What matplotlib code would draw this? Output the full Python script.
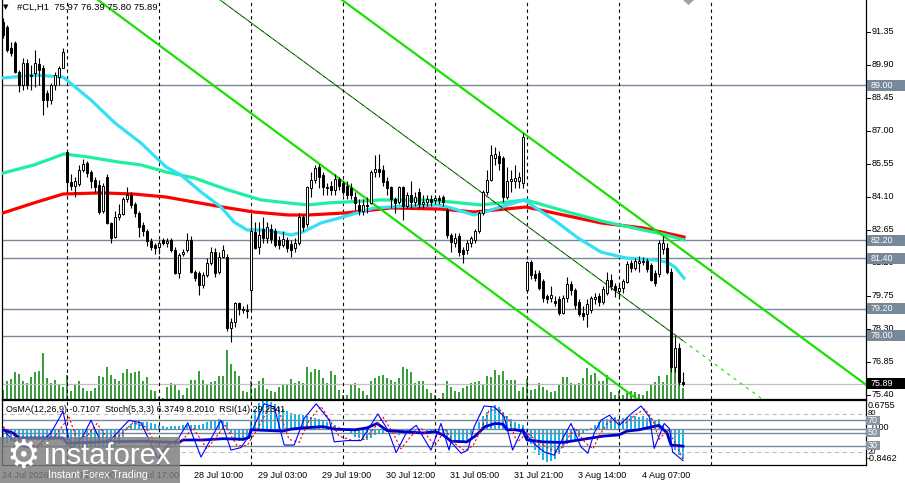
import numpy as np
import matplotlib
matplotlib.use("Agg")
import matplotlib.pyplot as plt
import matplotlib.transforms as mtransforms
from matplotlib.patches import Rectangle, Polygon

# ── Data: #CL, H1, bar index 0..170 ──────────────────────────────────
opens = [
    91.79, 91.57, 90.65, 90.87, 89.59, 89.02, 89.99, 89.46, 89.55, 89.95,
    89.77, 88.67, 88.36, 89.02, 89.38, 89.77, 86.08, 84.77, 84.60, 84.68,
    85.29, 85.60, 85.20, 84.85, 84.63, 83.50, 84.98, 82.96, 82.35, 83.22,
    83.35, 84.00, 84.20, 83.80, 83.40, 82.85, 82.60, 82.17, 82.00, 81.90,
    82.20, 82.10, 82.20, 81.77, 80.76, 81.60, 81.75, 82.20, 80.80, 80.75,
    80.23, 80.67, 81.20, 81.68, 80.80, 81.46, 81.46, 78.35, 78.60, 79.44,
    79.20, 79.15, 80.01, 82.55, 81.90, 82.70, 82.30, 82.70, 82.60, 82.20,
    82.00, 82.20, 82.05, 81.85, 82.10, 83.20, 82.90, 84.50, 84.85, 85.40,
    85.05, 84.55, 84.60, 84.40, 84.90, 84.70, 84.60, 84.50, 84.10, 83.75,
    83.50, 83.75, 83.85, 85.20, 85.35, 85.30, 84.80, 84.55, 84.00, 83.90,
    84.55, 83.70, 84.20, 83.90, 84.30, 83.80, 83.90, 84.00, 83.95, 84.05,
    84.10, 83.53, 82.44, 82.10, 82.40, 81.75, 81.77, 82.10, 82.20, 82.60,
    83.40, 84.30, 84.85, 85.80, 85.90, 85.80, 84.10, 84.80, 84.80, 84.80,
    84.70, 80.01, 81.24, 80.70, 80.76, 80.40, 79.75, 79.65, 79.55, 79.60,
    79.00, 79.66, 80.28, 80.00, 79.50, 79.00, 78.95, 79.15, 79.60, 79.75,
    79.50, 79.90, 80.45, 80.20, 79.95, 80.10, 80.35, 81.20, 81.00, 81.20,
    81.25, 81.30, 81.10, 80.76, 80.70, 81.80, 81.86, 80.80, 76.63, 77.47, 75.97,
]
highs = [
    91.97, 91.66, 90.90, 90.95, 89.70, 90.20, 90.17, 89.90, 90.56, 90.20,
    89.90, 88.80, 89.10, 89.60, 89.85, 90.65, 86.17, 85.10, 85.00, 85.50,
    85.75, 85.70, 85.30, 85.00, 84.85, 84.70, 85.10, 83.00, 83.50, 83.80,
    84.10, 84.55, 84.30, 83.90, 83.50, 83.00, 82.70, 82.30, 82.10, 82.20,
    82.30, 82.30, 82.30, 81.90, 81.65, 81.80, 82.50, 82.40, 80.90, 80.85,
    80.80, 81.40, 81.90, 81.85, 81.70, 82.00, 81.60, 78.80, 79.50, 79.50,
    79.30, 79.40, 83.40, 83.00, 83.00, 83.20, 83.00, 82.90, 82.75, 82.40,
    82.60, 82.35, 82.20, 82.30, 83.40, 83.30, 84.60, 85.20, 85.50, 85.55,
    85.20, 84.70, 84.80, 85.10, 85.00, 84.80, 84.80, 84.70, 84.30, 84.00,
    84.00, 84.10, 85.30, 85.95, 86.00, 85.50, 85.00, 84.60, 84.10, 84.60,
    84.60, 84.30, 84.80, 84.30, 84.50, 84.20, 84.20, 84.20, 84.20, 84.20,
    84.20, 83.60, 82.50, 82.50, 82.50, 81.90, 82.20, 82.40, 82.70, 83.50,
    84.40, 85.30, 86.40, 86.30, 86.10, 85.90, 85.40, 85.30, 85.50, 85.20,
    86.90, 81.30, 81.35, 80.90, 80.90, 80.50, 79.85, 80.20, 79.75, 79.75,
    79.80, 80.60, 80.40, 80.10, 79.60, 79.30, 79.60, 79.75, 79.90, 79.90,
    80.20, 80.80, 80.70, 80.30, 80.30, 80.50, 81.30, 81.35, 81.40, 81.50,
    81.45, 81.40, 81.20, 80.90, 82.20, 82.40, 82.10, 81.00, 78.00, 77.70, 76.39,
]
lows = [
    91.10, 90.47, 90.30, 89.55, 88.71, 88.80, 88.85, 88.80, 88.93, 89.00,
    87.70, 88.05, 88.20, 88.80, 89.00, 89.75, 84.30, 84.40, 84.10, 84.60,
    85.20, 85.00, 84.50, 84.30, 83.35, 83.40, 82.90, 82.07, 82.30, 83.10,
    83.30, 83.90, 83.60, 83.20, 82.35, 82.40, 81.95, 81.75, 81.60, 81.60,
    82.00, 81.90, 81.70, 80.70, 80.55, 81.50, 81.70, 80.75, 80.40, 79.80,
    80.10, 80.60, 81.10, 80.60, 80.70, 81.40, 78.20, 77.72, 78.40, 78.90,
    79.00, 78.80, 79.10, 81.80, 81.60, 82.10, 82.10, 82.10, 81.90, 81.80,
    81.90, 81.70, 81.46, 81.70, 82.00, 82.60, 82.80, 84.10, 84.70, 84.50,
    84.20, 84.20, 84.20, 84.20, 84.40, 84.20, 84.00, 84.00, 83.55, 83.30,
    83.30, 83.40, 83.80, 85.00, 85.00, 84.60, 84.20, 83.60, 83.40, 83.80,
    83.10, 83.60, 83.60, 83.70, 83.60, 83.60, 83.70, 83.70, 83.80, 83.80,
    83.70, 82.30, 81.70, 81.90, 81.50, 81.20, 81.60, 81.90, 82.10, 82.50,
    83.30, 84.20, 84.80, 85.50, 85.30, 83.90, 84.00, 84.30, 84.50, 84.50,
    84.50, 79.90, 80.50, 80.40, 80.00, 79.50, 79.45, 79.50, 79.30, 78.90,
    78.95, 79.50, 79.80, 79.20, 78.85, 78.70, 78.40, 79.00, 79.40, 79.30,
    79.40, 79.80, 80.00, 79.70, 79.70, 79.90, 80.30, 80.80, 80.90, 80.80,
    81.10, 80.80, 80.40, 80.20, 80.60, 81.60, 80.70, 76.40, 76.40, 75.85, 75.80,
]
closes = [
    91.22, 90.56, 90.43, 89.59, 89.02, 89.99, 89.02, 89.42, 89.99, 89.68,
    88.36, 88.36, 89.02, 89.46, 89.77, 90.47, 84.77, 84.60, 84.80, 85.30,
    85.55, 85.15, 84.80, 84.55, 83.44, 84.60, 82.96, 82.30, 83.22, 83.35,
    84.00, 84.20, 83.75, 83.40, 82.79, 82.60, 82.17, 81.90, 81.85, 82.10,
    82.10, 82.15, 81.77, 80.76, 81.55, 81.70, 82.20, 80.80, 80.55, 80.23,
    80.67, 81.20, 81.68, 80.76, 81.46, 81.77, 78.35, 78.60, 79.44, 79.20,
    79.15, 79.10, 82.60, 81.88, 82.45, 82.30, 82.80, 82.25, 82.00, 82.00,
    82.25, 81.85, 81.77, 82.10, 83.20, 82.80, 84.55, 84.85, 85.37, 84.98,
    84.55, 84.50, 84.40, 84.90, 84.60, 84.30, 84.17, 84.20, 83.85, 83.50,
    83.75, 83.70, 85.20, 85.35, 85.20, 84.77, 84.50, 84.00, 83.85, 84.55,
    83.70, 84.20, 83.90, 84.10, 83.80, 83.90, 84.00, 83.90, 84.05, 83.95,
    83.90, 82.44, 82.13, 82.30, 81.68, 81.60, 82.10, 82.30, 82.60, 83.40,
    84.30, 84.85, 85.95, 86.00, 85.60, 84.10, 84.80, 84.90, 84.95, 85.00,
    86.75, 81.24, 80.67, 80.55, 80.10, 79.66, 79.60, 79.80, 79.45, 79.00,
    79.66, 80.28, 80.00, 79.35, 78.98, 78.85, 79.40, 79.66, 79.70, 79.50,
    80.05, 80.45, 80.17, 80.00, 80.10, 80.40, 81.15, 81.00, 81.30, 81.30,
    81.30, 80.95, 80.45, 80.30, 82.10, 82.10, 80.80, 76.63, 77.47, 75.97, 75.89,
]
volumes = [
    87, 177, 193, 267, 247, 177, 157, 217, 267, 277,
    457, 207, 157, 187, 137, 117, 237, 77, 147, 177,
    107, 77, 77, 107, 227, 217, 317, 237, 197, 177,
    257, 297, 257, 267, 277, 177, 217, 87, 77, 17,
    10, 117, 157, 137, 87, 37, 107, 187, 187, 277,
    187, 137, 167, 177, 227, 227, 487, 347, 277, 227,
    77, 67, 177, 107, 177, 207, 97, 77, 67, 117,
    147, 147, 197, 157, 177, 157, 317, 267, 297, 287,
    207, 157, 277, 237, 87, 37, 37, 147, 157, 107,
    77, 37, 177, 207, 227, 237, 207, 187, 167, 207,
    317, 297, 267, 157, 177, 177, 97, 57, 37, 3,
    57, 177, 117, 77, 67, 107, 127, 157, 167, 177,
    147, 227, 217, 287, 237, 277, 187, 187, 187, 77,
    117, 197, 87, 97, 157, 117, 87, 67, 77, 147,
    217, 217, 157, 147, 157, 207, 307, 237, 257, 177,
    177, 237, 67, 37, 77, 37, 57, 77, 67, 47,
    37, 77, 137, 167, 227, 167, 237, 307, 307, 407, 110,
]
osma = [
    -0.32, -0.32, -0.31, -0.30, -0.30, -0.29, -0.28, -0.27, -0.26, -0.25,
    -0.26, -0.26, -0.25, -0.22, -0.18, -0.12,
    -0.25, -0.35, -0.42, -0.45, -0.44, -0.42, -0.41, -0.42, -0.45, -0.45,
    -0.50, -0.52, -0.45, -0.35, -0.20,
    0.05, 0.12, 0.17, 0.18, 0.17, 0.15, 0.14, 0.12, 0.10,
    0.06, 0.05, 0.06, 0.07, 0.06,
    0.08, 0.10, 0.10, 0.09, 0.10, 0.12, 0.15,
    0.18, 0.20, 0.22, 0.20, 0.15,
    -0.10, -0.25, -0.29, -0.28, -0.25,
    0.20, 0.45, 0.60, 0.66, 0.67, 0.63, 0.58, 0.52, 0.47, 0.42, 0.38,
    0.35, 0.33, 0.32, 0.30, 0.28, 0.25, 0.22, 0.18, 0.15, 0.12, 0.10,
    0.05, 0.00, -0.05, -0.10,
    -0.18, -0.22, -0.25, -0.25, -0.22,
    -0.15, -0.12, -0.10, -0.08, -0.10,
    -0.12, -0.15, -0.13, -0.10, -0.08,
    -0.05, -0.04, -0.03, -0.05, -0.06, -0.05, -0.08, -0.12, -0.20,
    -0.28, -0.30, -0.30, -0.28, -0.25, -0.15, 0.00, 0.15, 0.30, 0.40,
    0.50, 0.56, 0.50, 0.40, 0.30, 0.22, 0.15, 0.12, 0.08, -0.15,
    -0.35, -0.50, -0.62, -0.72, -0.77, -0.76, -0.70, -0.60, -0.45, -0.35,
    -0.30, -0.25, -0.20, -0.12, -0.05, 0.02, 0.08, 0.15, 0.20, 0.22,
    0.25, 0.27, 0.22, 0.25, 0.28, 0.30, 0.30, 0.28, 0.30, 0.26,
    0.25, 0.20, 0.22, 0.10, -0.10, -0.30, -0.50, -0.62, -0.71,
]

# moving averages read at sample bars
ma_fast_bar = [0, 8, 15, 22, 28, 34.5, 40.75, 44.5, 49.5, 54.5, 57.75, 61, 66, 72,
               75, 79.5, 85, 92.75, 101, 108.75, 112, 117.75, 122, 126, 130.25,
               137.75, 143.75, 149.5, 155.75, 163, 166, 168, 170.25]
ma_fast_val = [89.33, 89.46, 89.37, 88.36, 87.35, 86.47, 85.42, 85.07, 84.32, 83.66,
               83.00, 82.65, 82.65, 82.43, 82.56, 82.96, 83.22, 83.62, 83.70, 83.75,
               83.62, 83.31, 83.53, 83.75, 83.97, 83.09, 82.30, 81.68, 81.42, 81.33,
               81.24, 81.02, 80.54]
ma_mid_bar = [0, 7.75, 15.25, 21.25, 28.75, 34.5, 40.75, 47.75, 56.25, 64.5, 71.25,
              76.25, 81.25, 85.75, 94.5, 105.25, 112, 119.5, 130.75, 141.25, 149.5,
              160, 165, 170.25]
ma_mid_val = [85.15, 85.51, 85.99, 85.86, 85.64, 85.51, 85.20, 84.94, 84.41, 83.97,
              83.84, 83.75, 83.84, 83.88, 83.97, 83.97, 83.88, 83.75, 83.97, 83.44,
              83.05, 82.65, 82.47, 82.21]
ma_slow_bar = [0, 7.75, 15, 24.5, 32.75, 40.75, 47.75, 56.25, 62.75, 71.25, 76.25,
               85.75, 97, 109.5, 117.75, 130.75, 149.5, 160, 170.25]
ma_slow_val = [83.40, 83.84, 84.23, 84.28, 84.23, 84.10, 83.88, 83.62, 83.44, 83.31,
               83.31, 83.40, 83.62, 83.57, 83.44, 83.66, 82.96, 82.74, 82.34]

# stochastic (main / signal) and RSI read at turning points
stoch_bar = [0, 1.2, 4, 8, 12, 15, 17, 20, 22, 24.5, 27, 31.5, 34.5, 38.7, 41, 43.7,
             46.2, 49.5, 54.5, 57, 59.5, 62, 65.3, 67.8, 70.3, 72.8, 75.3, 78.3, 81.6,
             82.8, 86.2, 89.5, 93.7, 96.2, 98.3, 100.8, 103.3, 107, 109.5, 111.5, 112,
             114.5, 116.2, 117.8, 120.3, 122.8, 125.3, 127.4, 129.9, 131.6, 132.8,
             135.3, 137.8, 139.9, 142, 144.5, 146.2, 147.8, 149.5, 151.6, 154.1, 157,
             159.5, 161.6, 162.8, 165.3, 166.6, 167.4, 170]
stoch_val = [57, 47, 30, 25, 50, 84, 25, 45, 70, 35, 40, 70, 66, 10, 30, 40,
             66, 12, 70, 23, 27, 50, 96, 91, 31, 31, 73, 96, 70,
             36, 38, 38, 80, 55, 19, 50, 62, 23, 65, 23, 36,
             18, 23, 60, 92.6, 91, 75.7, 23, 57, 41.5, 33,
             20, 15, 41, 65, 28, 18, 50, 70, 78, 62, 80,
             92.6, 75, 25.7, 65, 57, 20, 6.37]
signal_bar = [0, 2, 5, 9, 13, 16.5, 18.5, 21, 23.5, 26, 29, 32.5, 35.5, 39.5, 42, 45,
              47.5, 51, 55.5, 58.5, 61, 63.5, 66.5, 69, 71.5, 74, 76.5, 79.5, 82.5,
              84, 87.5, 90.5, 95, 97.5, 99.5, 102, 104.5, 108, 110.5, 113, 115.5,
              117.5, 119.5, 121.5, 124, 126.5, 128.5, 131, 133, 136.5, 139, 141, 143,
              145.5, 147.5, 149, 151, 153, 155.5, 158, 160.5, 162.5, 164, 166.3,
              168.5, 170]
signal_val = [60, 50, 35, 28, 45, 75, 40, 45, 65, 42, 45, 66, 60, 22, 28, 40,
              58, 25, 62, 30, 30, 55, 90, 85, 40, 35, 70, 92, 62,
              45, 38, 40, 75, 50, 25, 45, 58, 30, 55, 33, 22,
              30, 55, 85, 88, 70, 35, 50, 40, 25, 20, 40, 58,
              35, 25, 45, 65, 72, 65, 78, 88, 70, 40, 55,
              28, 8.2]
rsi_bar = [0, 2.5, 4, 15, 16, 25, 35, 44, 45, 50, 55, 60, 61.5, 62, 66, 70, 72, 75,
           80, 83, 88, 91, 93.5, 96, 100, 105, 108, 110, 112, 116, 118, 120.5, 123,
           125, 126, 128, 130, 131, 135, 140, 143, 146, 150, 154, 156, 159, 161, 164,
           166, 167, 170]
rsi_val = [55, 50, 42, 42, 34, 36, 37, 35, 39, 39, 41, 40, 43, 55, 54, 53, 56, 58,
           60, 56, 55, 58, 65, 54, 52, 50, 52, 47, 37, 36, 45, 60, 65,
           64, 55, 55, 53, 39, 36, 35, 38, 41, 45, 47, 53, 55, 58, 62,
           50, 31, 29.23]

# drawn objects: channel lines (bar, price) anchors and horizontal levels
chan_low = [(23.75, 92.76), (158.5, 75.22)]
chan_high = [(84.75, 92.76), (216.0, 75.82)]
chan_mid = [(54.25, 92.76), (189.5, 75.26)]
chan_mid_end_bar = 170
levels = [89.00, 82.20, 81.40, 79.20, 78.00]
last_price = 75.89
price_ticks = ["91.35", "89.90", "88.45", "87.00", "85.55", "84.10",
               "82.65", "81.20", "79.75", "78.30", "76.85", "75.40"]
day_sep_bars = [16, 39, 62, 85, 108, 131, 154, 177]
time_label_bars = [0, 16, 32, 48, 64, 80, 96, 112, 128, 144, 160]
time_labels = ["24 Jul 2026", "27 Jul 01:00", "27 Jul 17:00", "28 Jul 10:00",
               "29 Jul 03:00", "29 Jul 19:00", "30 Jul 12:00", "31 Jul 05:00",
               "31 Jul 21:00", "3 Aug 14:00", "4 Aug 07:00"]
osma_min, osma_max = -0.8462, 0.6755

# ── Style ────────────────────────────────────────────────────────────
plt.rcParams["font.family"] = ["Liberation Sans", "DejaVu Sans"]
plt.rcParams["font.size"] = 6.5

GRID = "#778899"
LIME = "#19e000"
FS = 6.5
W, H = 905, 483


def fx(x):
    return x / W


def fy(y):
    return 1 - y / H


fig = plt.figure(figsize=(W / 100, H / 100), dpi=100)
fig.patch.set_facecolor("white")

main_rect = [fx(2), fy(398.5), 864 / W, 398.5 / H]
osc_rect = [fx(2), fy(465), 864 / W, 65 / H]

ax_vol = fig.add_axes(main_rect, zorder=1)
ax = fig.add_axes(main_rect, zorder=2, sharex=ax_vol)
ax_osma = fig.add_axes(osc_rect, zorder=1, sharex=ax_vol)
ax_osc = fig.add_axes(osc_rect, zorder=2, sharex=ax_vol)
ax.patch.set_alpha(0)
ax_osc.patch.set_alpha(0)

n = len(closes)
bars = np.arange(n)
ax_vol.set_xlim(-0.25, 215.75)
ax.set_ylim(75.246, 92.756)
ax_vol.set_ylim(0, 3985)
ax_osc.set_ylim(-0.5, 102)
ax_osma.set_ylim(osma_min, osma_max)

for a in (ax_vol, ax, ax_osma, ax_osc):
    a.set_xticks([])
    a.set_yticks([])
    for s in a.spines.values():
        s.set_visible(False)
for a in (ax, ax_osc):
    for s in a.spines.values():
        s.set_visible(True)
        s.set_color("black")
        s.set_linewidth(0.9)
    a.spines["top"].set_visible(a is ax_osc)

# volumes
ax_vol.vlines(bars, 0, volumes, color="#008000", lw=1.1)

# level lines
for lv in levels:
    ax.axhline(lv, color=GRID, lw=1.0, zorder=1)
ax.axhline(last_price, color="#c0c0c0", lw=0.9, zorder=1)

# day separators
for b in day_sep_bars:
    for a in (ax, ax_osc):
        a.axvline(b, color="black", lw=0.8, ls=(0, (3, 3)), zorder=1)

# moving averages
ax.plot(ma_slow_bar, ma_slow_val, color="#ff0000", lw=2.3, zorder=3)
ax.plot(ma_mid_bar, ma_mid_val, color="#1ef0a0", lw=2.3, zorder=3)
ax.plot(ma_fast_bar, ma_fast_val, color="#33e0f4", lw=2.3, zorder=3)

# channel
for line in (chan_low, chan_high):
    (b0, p0), (b1, p1) = line
    ax.plot([b0, b1], [p0, p1], color=LIME, lw=1.6, zorder=4)
(m0, q0), (m1, q1) = chan_mid
q_end = q0 + (q1 - q0) * (chan_mid_end_bar - m0) / (m1 - m0)
ax.plot([m0, chan_mid_end_bar], [q0, q_end], color="black", lw=0.6, zorder=4)
ax.plot([m0, m1], [q0, q1], color=LIME, lw=0.8, ls=(0, (3, 4)), zorder=4)

# candles
for i in range(n):
    o, h, l, c = opens[i], highs[i], lows[i], closes[i]
    ax.plot([i, i], [l, h], color="black", lw=0.8, zorder=5,
            solid_capstyle="butt")
    lo, hi = min(o, c), max(o, c)
    ax.add_patch(Rectangle((i - 0.36, lo), 0.72, max(hi - lo, 0.03),
                           facecolor="white" if c >= o else "black",
                           edgecolor="black", lw=0.7, zorder=6))

# oscillator panel
ax_osma.bar(bars, osma, width=0.65, color="#1ab4ea", linewidth=0)
ax_osma.axhline(0, color=GRID, lw=1.0)
for lv in (70, 50, 30):
    ax_osc.axhline(lv, color=GRID, lw=1.0, zorder=1)
for lv in (80, 20):
    ax_osc.axhline(lv, color="#c0c0c0", lw=0.8, ls=(0, (4, 3)), zorder=1)
ax_osc.plot(rsi_bar, rsi_val, color="#0000cd", lw=2.0, zorder=3)
ax_osc.plot(signal_bar, signal_val, color="#ff0000", lw=0.8,
            ls=(0, (2, 2)), zorder=4)
ax_osc.plot(stoch_bar, stoch_val, color="#0000ff", lw=0.8, zorder=5)

# ── Right price scale ────────────────────────────────────────────────
blend = mtransforms.blended_transform_factory(ax.transAxes, ax.transData)
px_ax = 1.0 / 864
px_price = (92.756 - 75.246) / 398.5
for t in price_ticks:
    p = float(t)
    ax.plot([1.0, 1.0 + 4 * px_ax], [p, p], transform=blend, color="black",
            lw=0.7, clip_on=False)
    ax.text(1.0 + 6 * px_ax, p, t, transform=blend, fontsize=FS,
            va="center", ha="left", clip_on=False, zorder=7)


def price_box(p, face):
    ax.add_patch(Rectangle((1.0 + 1 * px_ax, p - 5.5 * px_price), 38 * px_ax,
                           11 * px_price, transform=blend, facecolor=face,
                           edgecolor="none", clip_on=False, zorder=8))
    ax.text(1.0 + 5 * px_ax, p, f"{p:.2f}", transform=blend, fontsize=FS,
            color="white", va="center", ha="left", clip_on=False, zorder=9)


for lv in levels:
    price_box(lv, GRID)
price_box(last_price, "black")

oblend = mtransforms.blended_transform_factory(ax_osc.transAxes, ax_osc.transData)
mblend = mtransforms.blended_transform_factory(ax_osma.transAxes, ax_osma.transData)
ax_osma.text(1.0 + 2 * px_ax, osma_max - 0.13, f"{osma_max:.4f}", transform=mblend,
             fontsize=FS, va="center", ha="left", clip_on=False)
ax_osma.text(1.0 + 1 * px_ax, osma_min + 0.16, f"{osma_min:.4f}", transform=mblend,
             fontsize=FS, va="center", ha="left", clip_on=False)
ax_osma.text(1.0 + 6 * px_ax, 0.02, "0.00", transform=mblend,
             fontsize=FS, va="center", ha="left", clip_on=False)
for lv in (80, 20):
    ax_osc.text(1.0 + 2 * px_ax, lv, str(lv), transform=oblend, fontsize=FS - 1,
                va="center", ha="left", clip_on=False)
px_osc = 102.5 / 65
for lv in (70, 50, 30):
    ax_osc.add_patch(Rectangle((1.0, lv - 4.5 * px_osc), 14 * px_ax, 9 * px_osc,
                               transform=oblend, facecolor="#8a96a3",
                               edgecolor="none", clip_on=False, zorder=8))
    ax_osc.text(1.0 + 2 * px_ax, lv, str(lv), transform=oblend, fontsize=FS,
                color="white", va="center", ha="left", clip_on=False, zorder=9)

# ── Time axis ────────────────────────────────────────────────────────
tblend = mtransforms.blended_transform_factory(ax_osc.transData, fig.transFigure)
for b, lab in zip(time_label_bars, time_labels):
    fig.text(b - 0.25, fy(475.5), lab, transform=tblend, fontsize=FS,
             va="center", ha="left", zorder=3)

# ── Header texts ─────────────────────────────────────────────────────
fig.text(fx(3), fy(7), "\u25bc", fontsize=5, va="center", ha="left",
         family="DejaVu Sans")
fig.text(fx(17), fy(7), "#CL,H1  75.97 76.39 75.80 75.89", fontsize=FS + 0.3,
         va="center", ha="left")
fig.text(fx(6), fy(409.5),
         "OsMA(12,26,9) -0.7107  Stoch(5,3,3) 6.3749 8.2010  RSI(14) 29.2341",
         fontsize=FS, va="center", ha="left", zorder=6)
fig.patches.append(Polygon([(fx(683), fy(0)), (fx(694), fy(0)), (fx(688.5), fy(5))],
                           closed=True, transform=fig.transFigure,
                           facecolor="#a0a0a0", edgecolor="none", zorder=6))

# ── Watermark logo ───────────────────────────────────────────────────
fig.patches.append(Rectangle((fx(0), fy(483)), fx(180), 46 / H,
                             transform=fig.transFigure, facecolor="#7c7c7c",
                             alpha=0.82, edgecolor="none", zorder=9))
fig.text(fx(23), fy(457), "\u2699", fontsize=27, color="white", va="center",
         ha="center", family="DejaVu Sans", zorder=10)
fig.text(fx(44), fy(456), "instaforex", fontsize=21, color="white",
         va="center", ha="left", zorder=10)
fig.text(fx(48), fy(475), "Instant Forex Trading", fontsize=7.6, color="white",
         va="center", ha="left", zorder=10)

fig.savefig("out.png", dpi=100)
